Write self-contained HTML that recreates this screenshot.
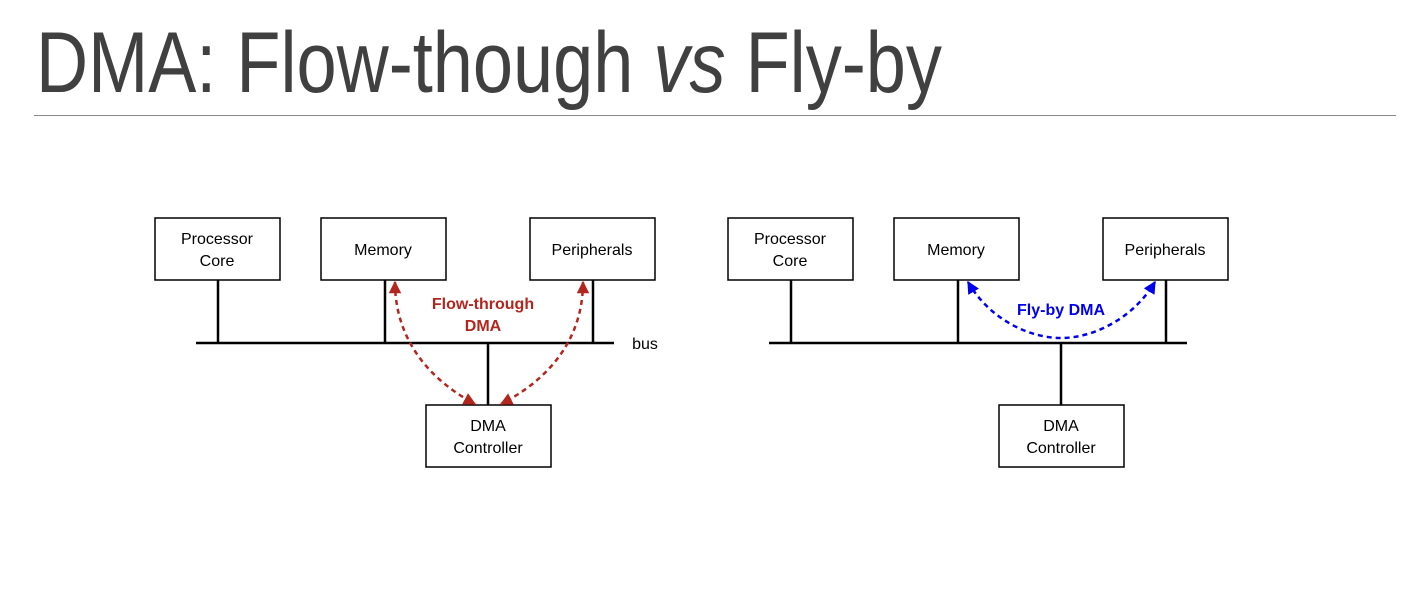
<!DOCTYPE html>
<html><head><meta charset="utf-8"><style>
html,body{margin:0;padding:0;background:#fff;width:1416px;height:592px;overflow:hidden}
</style></head><body>
<svg width="1416" height="592" viewBox="0 0 1416 592" xmlns="http://www.w3.org/2000/svg" font-family="Liberation Sans, Arial, sans-serif">
<defs>
<marker id="ar" viewBox="0 0 10 10" refX="9" refY="5" markerWidth="5" markerHeight="5" orient="auto-start-reverse"><path d="M0,0 L10,5 L0,10 z" fill="#b3261e"/></marker>
<marker id="ab" viewBox="0 0 10 10" refX="9" refY="5" markerWidth="5" markerHeight="5" orient="auto-start-reverse"><path d="M0,0 L10,5 L0,10 z" fill="#0000ee"/></marker>
</defs>
<text x="36" y="92" font-size="86" fill="#404040" textLength="906" lengthAdjust="spacingAndGlyphs">DMA: Flow-though <tspan font-style="italic">vs</tspan> Fly-by</text>
<line x1="34" y1="115.5" x2="1396" y2="115.5" stroke="#8a8a8a" stroke-width="1"/>

<g stroke="#000" stroke-width="2.5" fill="none">
<line x1="196" y1="343" x2="614" y2="343"/>
<line x1="218" y1="280" x2="218" y2="343"/>
<line x1="385" y1="280" x2="385" y2="343"/>
<line x1="593" y1="280" x2="593" y2="343"/>
<line x1="488" y1="343" x2="488" y2="405"/>
<line x1="769" y1="343" x2="1187" y2="343"/>
<line x1="791" y1="280" x2="791" y2="343"/>
<line x1="958" y1="280" x2="958" y2="343"/>
<line x1="1166" y1="280" x2="1166" y2="343"/>
<line x1="1061" y1="343" x2="1061" y2="405"/>
</g>
<g stroke="#000" stroke-width="1.5" fill="#fff">
<rect x="155" y="218" width="125" height="62"/>
<rect x="321" y="218" width="125" height="62"/>
<rect x="530" y="218" width="125" height="62"/>
<rect x="426" y="405" width="125" height="62"/>
<rect x="728" y="218" width="125" height="62"/>
<rect x="894" y="218" width="125" height="62"/>
<rect x="1103" y="218" width="125" height="62"/>
<rect x="999" y="405" width="125" height="62"/>
</g>
<g font-size="16" fill="#000" text-anchor="middle">
<text x="217" y="244">Processor</text><text x="217" y="266">Core</text>
<text x="383" y="255">Memory</text>
<text x="592" y="255">Peripherals</text>
<text x="488" y="431">DMA</text><text x="488" y="453">Controller</text>
<text x="790" y="244">Processor</text><text x="790" y="266">Core</text>
<text x="956" y="255">Memory</text>
<text x="1165" y="255">Peripherals</text>
<text x="1061" y="431">DMA</text><text x="1061" y="453">Controller</text>
<text x="645" y="349">bus</text>
</g>
<g fill="none" stroke-width="2.5" stroke-dasharray="5,4">
<path d="M395,282 C395,340 430,380 475,404" stroke="#b3261e" marker-start="url(#ar)" marker-end="url(#ar)"/>
<path d="M583,282 C583,340 548,380 501,404" stroke="#b3261e" marker-start="url(#ar)" marker-end="url(#ar)"/>
<path d="M968,282 C990,320 1030,338 1061,338 C1092,338 1132,320 1155,282" stroke="#0000ee" marker-start="url(#ab)" marker-end="url(#ab)"/>
</g>
<g font-size="16" font-weight="bold" text-anchor="middle">
<text x="483" y="309" fill="#b3261e">Flow-through</text>
<text x="483" y="331" fill="#b3261e">DMA</text>
<text x="1061" y="315" fill="#0000ee">Fly-by DMA</text>
</g>
</svg>
</body></html>
